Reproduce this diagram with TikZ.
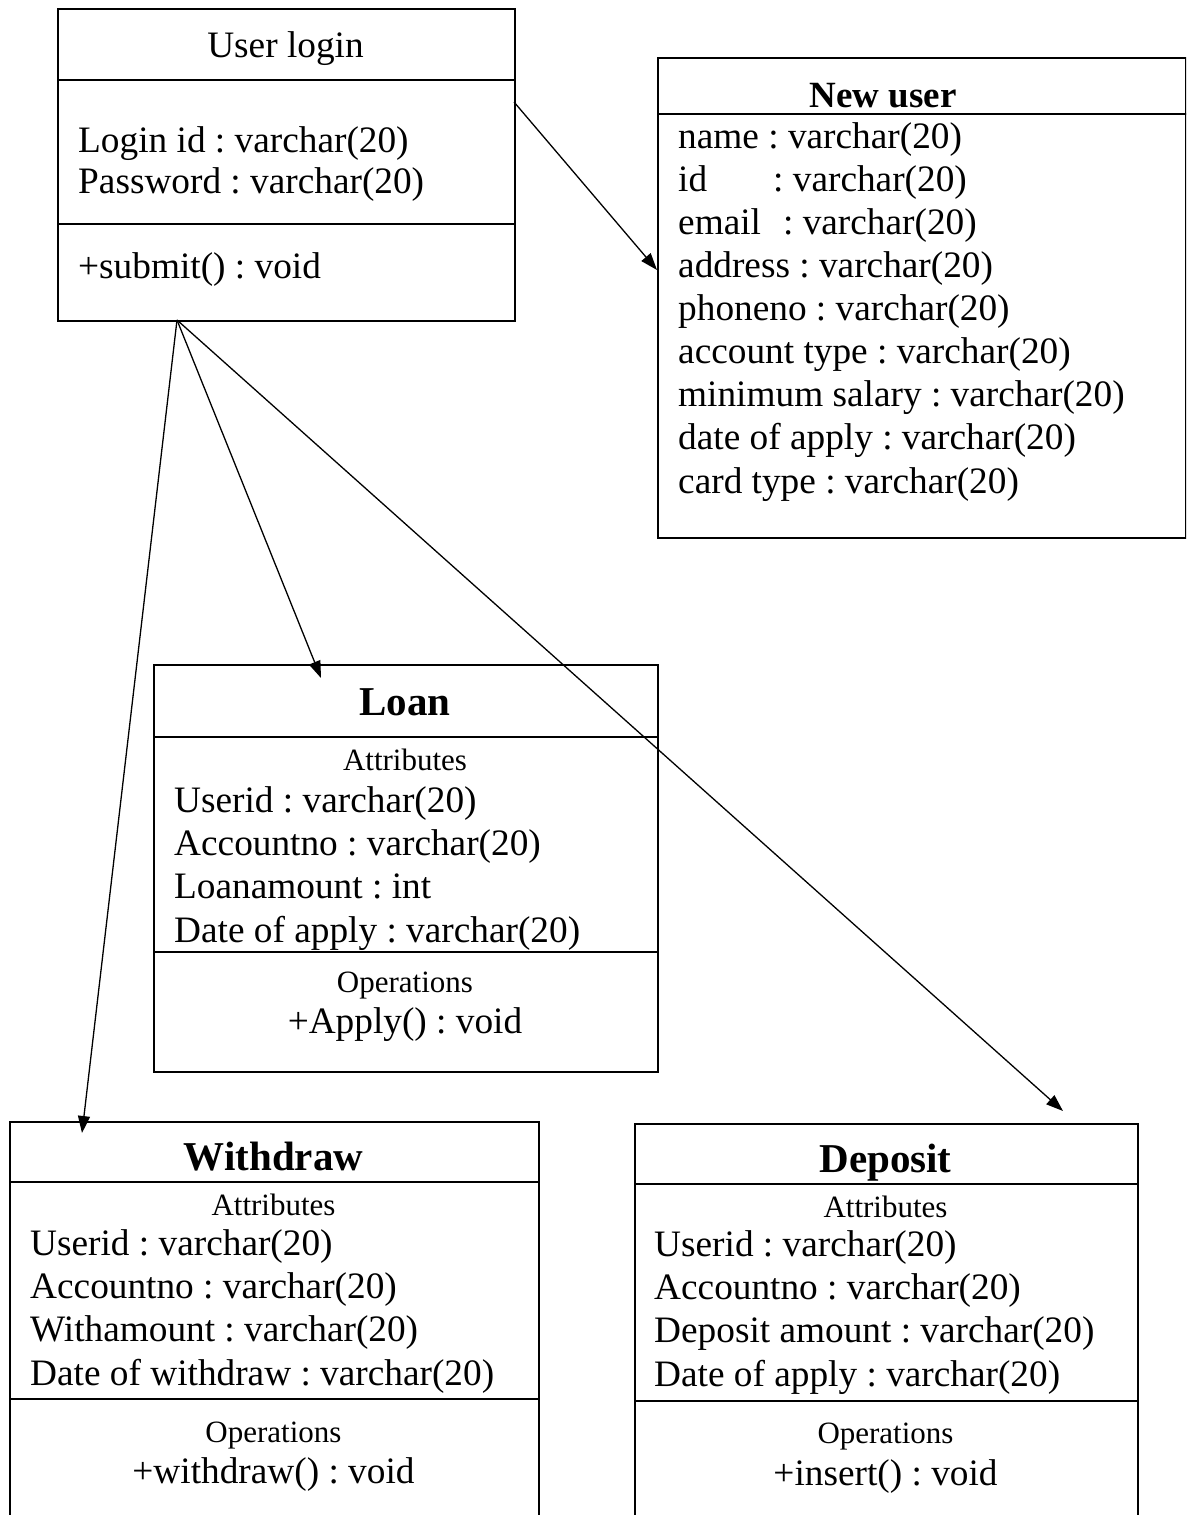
\documentclass[tikz,border=0pt]{standalone}
\usepackage{fontspec}
\setmainfont{Liberation Serif}
\usetikzlibrary{arrows.meta,positioning}
\frenchspacing

\begin{document}
\begin{tikzpicture}[x=1pt, y=-1pt,
	umlbox/.style={rectangle, draw, line width=1.9pt, anchor=north west, inner sep=0pt},
	sepline/.style={line width=1.9pt},
	title/.style={anchor=base, inner sep=0pt, font=\fontsize{41}{47}\bfseries\selectfont},
	heading/.style={anchor=base, inner sep=0pt, font=\fontsize{31}{36}\selectfont},
	member/.style={anchor=base west, align=left, inner sep=0pt, font=\fontsize{37.3}{43}\selectfont},
	op/.style={anchor=base, inner sep=0pt, font=\fontsize{37.3}{43}\selectfont},
	arr/.style={-{Triangle[length=17pt,width=12pt]}, line width=1.3pt}]
					\useasboundingbox (0,0) rectangle (1186,1515);
					\clip (0,0) rectangle (1186,1515);
					
					% User login (member lists sit on their last baseline)
					\node[umlbox, minimum width=457pt, minimum height=312pt] (login) at (57,8) {};
					\node[op] (logintitle) at (285.5,57) {User login};
					\node[member, font=\fontsize{37.3}{41}\selectfont] (loginattr) at (78,193) {Login id : varchar(20)\\Password : varchar(20)};
					\node[member] (loginop) at (78,278) {+submit() : void};
					\draw[sepline] (login.west |- 0,80) -- (login.east |- 0,80);
					\draw[sepline] (login.west |- 0,224) -- (login.east |- 0,224);
					
					% New user
					\node[umlbox, minimum width=528pt, minimum height=480pt] (newuser) at (657,57) {};
					\node[title, font=\fontsize{37}{43}\bfseries\selectfont] (newusertitle) at (883,107) {New user};
					\node[member, font=\fontsize{37.3}{43.1}\selectfont] (newuserattr) at (678,493) {name : varchar(20)\\id\hspace{66pt}: varchar(20)\\email\hspace{22pt}: varchar(20)\\address : varchar(20)\\phoneno : varchar(20)\\account type : varchar(20)\\minimum salary : varchar(20)\\date of apply : varchar(20)\\card type : varchar(20)};
					\draw[sepline] (newuser.west |- 0,114) -- (newuser.east |- 0,114);
					
					% Loan
					\node[umlbox, minimum width=504pt, minimum height=407pt] (loan) at (153,664) {};
					\node[title] (loantitle) at (405,715) {Loan};
					\node[heading] (loanattrhead) at (405,770) {Attributes};
					\node[member, font=\fontsize{37.3}{43.3}\selectfont] (loanattr) at (174,942) {Userid : varchar(20)\\Accountno : varchar(20)\\Loanamount : int\\Date of apply : varchar(20)};
					\node[heading] (loanophead) at (405,992) {Operations};
					\node[op] (loanop) at (405,1033) {+Apply() : void};
					\draw[sepline] (loan.west |- 0,737) -- (loan.east |- 0,737);
					\draw[sepline] (loan.west |- 0,952) -- (loan.east |- 0,952);
					
					% Withdraw
					\node[umlbox, minimum width=529pt, minimum height=420pt] (withdraw) at (9,1121) {};
					\node[title] (withdrawtitle) at (273.5,1170) {Withdraw};
					\node[heading] (withdrawattrhead) at (273.5,1215) {Attributes};
					\node[member, font=\fontsize{37.3}{43.3}\selectfont] (withdrawattr) at (30,1385) {Userid : varchar(20)\\Accountno : varchar(20)\\Withamount : varchar(20)\\Date of withdraw : varchar(20)};
					\node[heading] (withdrawophead) at (273.5,1442) {Operations};
					\node[op] (withdrawop) at (273.5,1483) {+withdraw() : void};
					\draw[sepline] (withdraw.west |- 0,1182) -- (withdraw.east |- 0,1182);
					\draw[sepline] (withdraw.west |- 0,1399) -- (withdraw.east |- 0,1399);
					
					% Deposit
					\node[umlbox, minimum width=503pt, minimum height=420pt] (deposit) at (634,1123) {};
					\node[title] (deposittitle) at (885.5,1172) {Deposit};
					\node[heading] (depositattrhead) at (885.5,1217) {Attributes};
					\node[member, font=\fontsize{37.3}{43.3}\selectfont] (depositattr) at (654,1386) {Userid : varchar(20)\\Accountno : varchar(20)\\Deposit amount : varchar(20)\\Date of apply : varchar(20)};
					\node[heading] (depositophead) at (885.5,1443) {Operations};
					\node[op] (depositop) at (885.5,1485) {+insert() : void};
					\draw[sepline] (deposit.west |- 0,1184) -- (deposit.east |- 0,1184);
					\draw[sepline] (deposit.west |- 0,1401) -- (deposit.east |- 0,1401);
					
					% Connections
					\coordinate (loginside) at (514,102);
					\coordinate (loginfoot) at (177,320);
					\coordinate (newuserside) at (657,270);
					\coordinate (loantip) at (321,678);
					\coordinate (withdrawtip) at (82,1133);
					\coordinate (deposittip) at (1063,1111);
					\draw[arr] (loginside) -- (newuserside);
					\draw[arr] (loginfoot) -- (loantip);
					\draw[arr] (loginfoot) -- (withdrawtip);
					\draw[arr] (loginfoot) -- (deposittip);
					
				\end{tikzpicture}
\end{document}
